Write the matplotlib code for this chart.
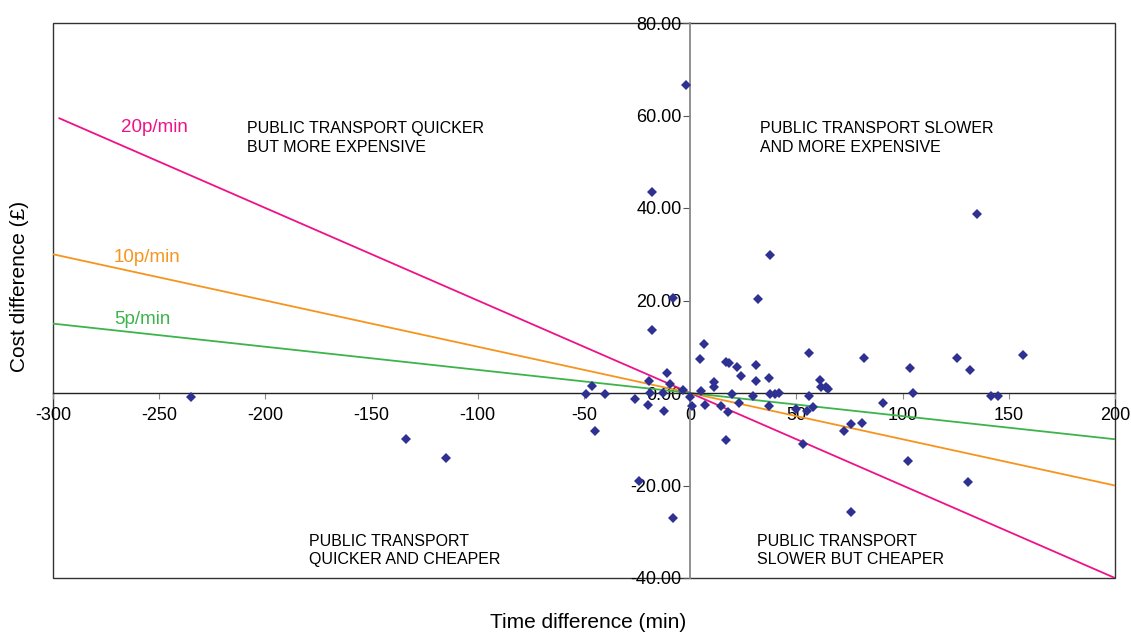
import matplotlib.pyplot as plt
from matplotlib.patches import Rectangle

plt.rcParams['font.family'] = ['Liberation Sans', 'DejaVu Sans']

# time difference (min) and cost difference (GBP) per journey
time_diff = [-2, -18, 134.8, 37.8, 31.8, -8.3, -18, 6.7, 55.7, 156.7,
             81.8, 125.7, 4.8, 17, 18.2, 30.8, 22, 103.7, 131.7, -11,
             23.7, 36.9, 60.9, 30.8, -19.2, 11, -9.7, -46, 11, 61.7,
             64, 65.1, -3.2, 4.9, 104.7, -18.8, -12.6, 42, 19.9, 37.7,
             39.7, -49.1, -40, 29.8, 55.9, 0, 141.6, 144.7, -234.8, -26,
             90.9, 22.8, 6.8, -20, 0.9, 14.7, 36.9, 57.8, 49.9, -12.1,
             54.9, 18, 80.8, 75.8, 72.6, -45, -133.9, 16.8, 52.9, -114.9,
             102.7, -24, 130.7, 75.8, -8]
cost_diff = [66.5, 43.4, 38.6, 29.9, 20.4, 20.6, 13.6, 10.5, 8.7, 8.3,
             7.6, 7.5, 7.3, 6.8, 6.5, 6.0, 5.6, 5.3, 5.0, 4.4,
             3.7, 3.2, 2.8, 2.6, 2.7, 2.4, 2.0, 1.5, 1.3, 1.2,
             1.3, 0.9, 0.7, 0.4, 0.1, 0.0, -0.1, -0.1, -0.3, -0.3,
             -0.3, -0.3, -0.3, -0.6, -0.7, -0.8, -0.7, -0.7, -0.9, -1.4,
             -2.1, -2.2, -2.5, -2.6, -2.8, -2.9, -2.9, -3.0, -3.5, -3.8,
             -3.9, -4.2, -6.4, -6.8, -8.2, -8.2, -10.0, -10.2, -11.0, -14.1,
             -14.8, -19.0, -19.2, -25.8, -27.0]

# value of time lines (pence per minute)
rates = [20, 10, 5]
rate_labels = ['20p/min', '10p/min', '5p/min']
rate_colors = ['#ee1289', '#f7941d', '#3cb44b']
line_start = [-297, -300, -300]
line_end = 200

x_ticks = [-300, -250, -200, -150, -100, -50, 0, 50, 100, 150, 200]
y_ticks = [-40, -20, 0, 20, 40, 60, 80]

fig = plt.figure(figsize=(11.31, 6.32), dpi=100)
ax = fig.add_axes([53/1131, 1-578/632, (1115-53)/1131, (578-23)/632])
ax.set_xlim(-300, 200)
ax.set_ylim(-40, 80)

for r, lab, c, x0 in zip(rates, rate_labels, rate_colors, line_start):
    k = -r / 100
    ax.plot([x0, line_end], [k*x0, k*line_end], color=c, lw=1.3, zorder=2)

ax.text(-268, 57.3, '20p/min', color=rate_colors[0], fontsize=13.5, va='center')
ax.text(-271.5, 29.2, '10p/min', color=rate_colors[1], fontsize=13.5, va='center')
ax.text(-271, 16, '5p/min', color=rate_colors[2], fontsize=13.5, va='center')

ax.plot(time_diff, cost_diff, 'D', color='#2e3192', markersize=4.6, zorder=3,
        markeredgewidth=0)

# axes through origin
for s in ['top', 'right']:
    ax.spines[s].set_visible(False)
ax.spines['left'].set_position(('data', 0))
ax.spines['bottom'].set_position(('data', 0))
ax.spines['left'].set_color('#888888')
ax.spines['left'].set_linewidth(1.3)
ax.spines['bottom'].set_color('#222222')
ax.spines['bottom'].set_linewidth(1.0)
ax.add_patch(Rectangle((0, 0), 1, 1, transform=ax.transAxes, fill=False,
                       edgecolor='#333333', lw=1.0, clip_on=False, zorder=1))

ax.set_xticks(x_ticks)
ax.set_xticklabels([str(t) for t in x_ticks])
ax.set_yticks(y_ticks)
ax.set_yticklabels(['%.2f' % t for t in y_ticks])
ax.tick_params(axis='x', direction='out', length=4, color='#888888',
               labelsize=13, pad=6)
ax.tick_params(axis='y', direction='out', length=5, color='#555555',
               labelsize=13, pad=1)

kw = dict(fontsize=11.5, va='top', ha='left', linespacing=1.3)
ax.text(-208.6, 58.8, 'PUBLIC TRANSPORT QUICKER\nBUT MORE EXPENSIVE', **kw)
ax.text(33, 58.8, 'PUBLIC TRANSPORT SLOWER\nAND MORE EXPENSIVE', **kw)
ax.text(-179.4, -30.4, 'PUBLIC TRANSPORT\nQUICKER AND CHEAPER', **kw)
ax.text(31.5, -30.4, 'PUBLIC TRANSPORT\nSLOWER BUT CHEAPER', **kw)

fig.text(588/1131, 1-622/632, 'Time difference (min)', fontsize=15,
         ha='center', va='center')
fig.text(20/1131, 1-286/632, 'Cost difference (\u00a3)', fontsize=15,
         ha='center', va='center', rotation=90)

fig.savefig('out.png', dpi=100)
